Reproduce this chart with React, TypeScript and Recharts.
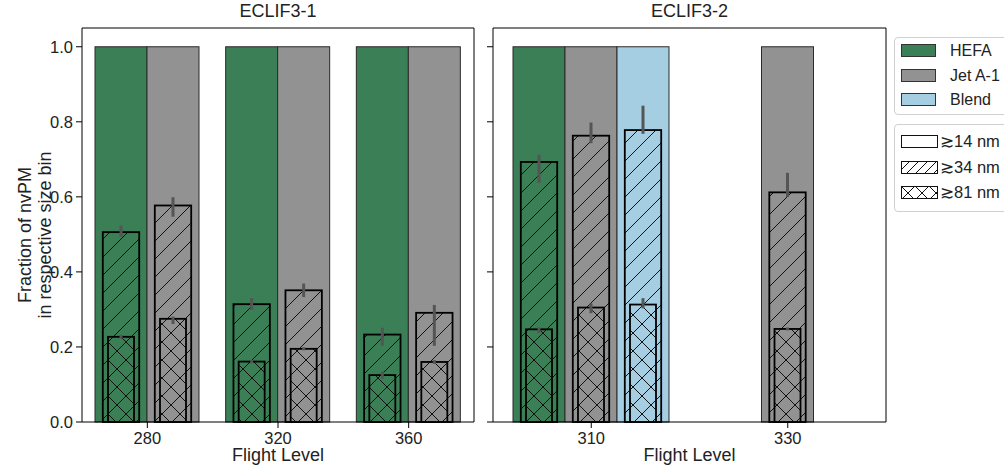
import React from 'react';
import { BarChart, Bar, XAxis, YAxis, ErrorBar } from 'recharts';

const FONT = '"Liberation Sans", Arial, Helvetica, sans-serif';

// series
const seriesKeys = ['hefa', 'jet', 'blend'];
const seriesNames = ['HEFA', 'Jet A-1', 'Blend'];
const seriesColors = ['#3a7f55', '#929292', '#a6cee3'];
const sizeBins = ['\u227314 nm', '\u227334 nm', '\u227381 nm'];
const yTicks = [0, 0.2, 0.4, 0.6, 0.8, 1.0];
const yLabelLines = ['Fraction of nvPM', 'in respective size bin'];

// ECLIF3-1
const levels1 = ['280', '320', '360'];
const hefa14_1 = [1, 1, 1];
const jet14_1 = [1, 1, 1];
const hefa34_1 = [0.506, 0.314, 0.233];
const jet34_1 = [0.577, 0.351, 0.291];
const hefa34Err1 = [[0.012, 0.017], [0.015, 0.016], [0.03, 0.018]];
const jet34Err1 = [[0.03, 0.022], [0.018, 0.018], [0.088, 0.021]];
const hefa81_1 = [0.227, 0.161, 0.125];
const jet81_1 = [0.275, 0.195, 0.16];
const hefa81Err1 = [[0.005, 0.005], [0.004, 0.004], [0.01, 0.009]];
const jet81Err1 = [[0.014, 0.006], [0.004, 0.004], [0.005, 0.005]];

// ECLIF3-2
const levels2 = ['310', '330'];
const hefa14_2 = [1, null];
const jet14_2 = [1, 1];
const blend14_2 = [1, null];
const hefa34_2 = [0.693, null];
const jet34_2 = [0.763, 0.612];
const blend34_2 = [0.778, null];
const hefa34Err2 = [[0.056, 0.019], null];
const jet34Err2 = [[0.02, 0.035], [0.012, 0.052]];
const blend34Err2 = [[0.01, 0.065], null];
const hefa81_2 = [0.247, null];
const jet81_2 = [0.305, 0.248];
const blend81_2 = [0.313, null];
const hefa81Err2 = [[0.01, 0.005], null];
const jet81Err2 = [[0.015, 0.011], [0.004, 0.004]];
const blend81Err2 = [[0.01, 0.017], null];

const data1 = levels1.map((level, i) => ({
  level,
  hefa14: hefa14_1[i], jet14: jet14_1[i],
  hefa34: hefa34_1[i], jet34: jet34_1[i],
  hefa34e: hefa34Err1[i], jet34e: jet34Err1[i],
  hefa81: hefa81_1[i], jet81: jet81_1[i],
  hefa81e: hefa81Err1[i], jet81e: jet81Err1[i],
}));

const data2 = levels2.map((level, i) => ({
  level,
  hefa14: hefa14_2[i], jet14: jet14_2[i], blend14: blend14_2[i],
  hefa34: hefa34_2[i], jet34: jet34_2[i], blend34: blend34_2[i],
  hefa34e: hefa34Err2[i], jet34e: jet34Err2[i], blend34e: blend34Err2[i],
  hefa81: hefa81_2[i], jet81: jet81_2[i], blend81: blend81_2[i],
  hefa81e: hefa81Err2[i], jet81e: jet81Err2[i], blend81e: blend81Err2[i],
}));

// bar drawn narrower than its slot, same centre
const slotBar = (frac: number, stroke: string, sw: number) => (props: any) => {
  const { x, y, width, height, fill } = props;
  if (!height || height <= 0 || !Number.isFinite(y)) return <g />;
  const w = width * frac;
  return <rect x={x + (width - w) / 2} y={y} width={w} height={height} fill={fill} stroke={stroke} strokeWidth={sw} />;
};

const Hatch = ({ id, bg, cross, size = 18 }: { id: string; bg: string; cross?: boolean; size?: number }) => {
  const s = size, h = size / 4;
  return (
    <pattern id={id} patternUnits="userSpaceOnUse" width={s} height={s}>
      <rect width={s} height={s} fill={bg} />
      <path d={`M${-h},${h} L${h},${-h} M0,${s} L${s},0 M${s - h},${s + h} L${s + h},${s - h}`} stroke="#111" strokeWidth={1} />
      {cross && (
        <path d={`M${-h},${s - h} L${h},${s + h} M0,0 L${s},${s} M${s - h},${-h} L${s + h},${h}`} stroke="#111" strokeWidth={1} />
      )}
    </pattern>
  );
};

const YLabel = ({ viewBox }: any) => {
  const cy = viewBox.y + viewBox.height / 2 + 10;
  return (
    <g fill="#222" fontSize={18} fontFamily={FONT}>
      <text x={31} y={cy} textAnchor="middle" transform={`rotate(-90, 31, ${cy})`}>{yLabelLines[0]}</text>
      <text x={51} y={cy} textAnchor="middle" transform={`rotate(-90, 51, ${cy})`}>{yLabelLines[1]}</text>
    </g>
  );
};

type PanelProps = {
  title: string;
  data: any[];
  nSeries: number;
  width: number;
  yWidth: number;
  rightWidth: number;
  yLabels: boolean;
};

function Panel({ title, data, nSeries, width, yWidth, rightWidth, yLabels }: PanelProps) {
  const p = title.replace(/\W/g, '');
  const keys = seriesKeys.slice(0, nSeries);
  return (
    <BarChart
      width={width}
      height={466}
      data={data}
      margin={{ top: 0, right: 0, bottom: 0, left: 0 }}
      barSize={52}
      barGap={0}
      style={{ fontFamily: FONT }}
    >
      <defs>
        {keys.map((k, i) => <Hatch key={'a' + k} id={`${p}-h34-${k}`} bg={seriesColors[i]} />)}
        {keys.map((k, i) => <Hatch key={'b' + k} id={`${p}-h81-${k}`} bg={seriesColors[i]} cross />)}
      </defs>
      <XAxis
        xAxisId="full"
        dataKey="level"
        height={44}
        tickSize={6}
        tickMargin={4}
        stroke="#000"
        tick={{ fill: '#222', fontSize: 16.5 }}
        label={{ value: 'Flight Level', position: 'insideBottom', offset: 5, fill: '#222', fontSize: 18 }}
      />
      <XAxis xAxisId="h34" dataKey="level" hide />
      <XAxis xAxisId="h81" dataKey="level" hide />
      <XAxis
        xAxisId="top"
        orientation="top"
        height={28}
        tick={false}
        tickLine={false}
        stroke="#000"
        label={{ value: title, position: 'insideTop', offset: 4, fill: '#222', fontSize: 18 }}
      />
      <YAxis
        type="number"
        domain={[0, 1.05]}
        ticks={yTicks}
        width={yWidth}
        tickSize={6}
        tickMargin={3}
        stroke="#000"
        tick={{ fill: '#222', fontSize: 16.5 }}
        tickFormatter={(v: number) => (yLabels ? v.toFixed(1) : '')}
        label={yLabels ? { content: YLabel } : undefined}
      />
      <YAxis yAxisId="r" orientation="right" width={rightWidth} domain={[0, 1.05]} tick={false} tickLine={false} stroke="#000" />
      {keys.map((k, i) => (
        <Bar key={'f' + k} xAxisId="full" dataKey={`${k}14`} fill={seriesColors[i]} shape={slotBar(1, '#2a2a2a', 1)} isAnimationActive={false} />
      ))}
      {keys.map((k) => (
        <Bar key={'h' + k} xAxisId="h34" dataKey={`${k}34`} fill={`url(#${p}-h34-${k})`} shape={slotBar(0.7, '#000', 1.8)} isAnimationActive={false}>
          <ErrorBar dataKey={`${k}34e`} width={0} stroke="#555" strokeWidth={3} />
        </Bar>
      ))}
      {keys.map((k) => (
        <Bar key={'c' + k} xAxisId="h81" dataKey={`${k}81`} fill={`url(#${p}-h81-${k})`} shape={slotBar(0.5, '#000', 1.8)} isAnimationActive={false}>
          <ErrorBar dataKey={`${k}81e`} width={0} stroke="#555" strokeWidth={3} />
        </Bar>
      ))}
    </BarChart>
  );
}

const boxStyle: React.CSSProperties = {
  position: 'absolute',
  left: 894,
  width: 130,
  border: '1px solid #d0d0d0',
  borderRadius: 4,
  background: '#fff',
};

function Legends() {
  return (
    <>
      <div style={{ ...boxStyle, top: 37, height: 76 }}>
        {seriesNames.map((n, i) => (
          <div key={n} style={{ position: 'absolute', left: 6, top: 6 + i * 24.5, height: 13, display: 'flex', alignItems: 'center' }}>
            <div style={{ width: 33, height: 11, background: seriesColors[i], border: '1px solid #333' }} />
            <span style={{ marginLeft: 14, fontSize: 16, color: '#222', lineHeight: '13px' }}>{n}</span>
          </div>
        ))}
      </div>
      <div style={{ ...boxStyle, top: 124, height: 86 }}>
        {sizeBins.map((n, i) => (
          <div key={n} style={{ position: 'absolute', left: 6, top: 10 + i * 25.7, height: 13, display: 'flex', alignItems: 'center' }}>
            <svg width={37} height={13}>
              <defs>
                {i > 0 && <Hatch id={`leg-${i}`} bg="#fff" cross={i === 2} size={i === 2 ? 14 : 9} />}
              </defs>
              <rect x={0.5} y={0.5} width={36} height={12} fill={i > 0 ? `url(#leg-${i})` : '#fff'} stroke="#111" strokeWidth={1} />
            </svg>
            <span style={{ marginLeft: 2, fontSize: 16.5, color: '#222', lineHeight: '13px' }}>{n}</span>
          </div>
        ))}
      </div>
    </>
  );
}

export default function App() {
  return (
    <div style={{ position: 'absolute', left: 0, top: 0, width: 1004, height: 466, overflow: 'hidden', background: '#fff', fontFamily: FONT }}>
      <div style={{ position: 'absolute', left: 0, top: 0 }}>
        <Panel title="ECLIF3-1" data={data1} nSeries={2} width={480} yWidth={82} rightWidth={6} yLabels />
      </div>
      <div style={{ position: 'absolute', left: 480, top: 0 }}>
        <Panel title="ECLIF3-2" data={data2} nSeries={3} width={410} yWidth={13} rightWidth={4} yLabels={false} />
      </div>
      <Legends />
    </div>
  );
}
